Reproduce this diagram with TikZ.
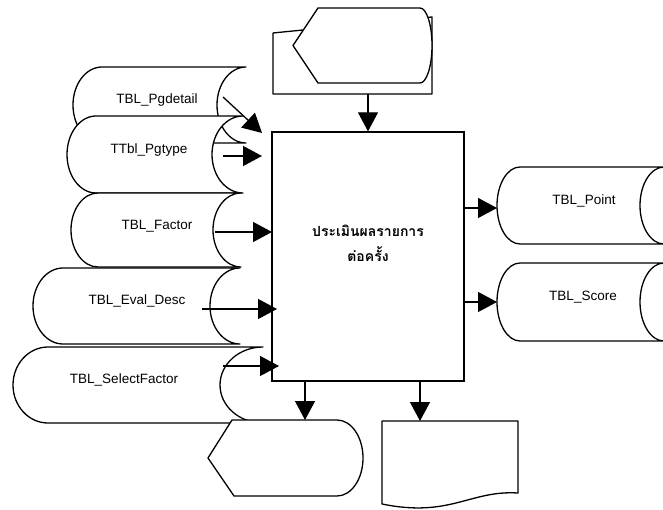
\documentclass[tikz,border=0pt]{standalone}
\usepackage{fontspec}
\setmainfont{Liberation Sans}
\newfontfamily\thaifont[Script=Thai]{Loma}
\usetikzlibrary{arrows.meta}
\tikzset{
  shp/.style={draw=black, line width=1.3pt, fill=white, line join=round},
  arr/.style={line width=1.3pt, -{Triangle[length=19pt,width=20pt]}},
  lbl/.style={font=\fontsize{13.5}{16}\selectfont, inner sep=0pt},
  thlbl/.style={font=\thaifont\bfseries\fontsize{14}{25}\selectfont, inner sep=0pt, align=center},
}
% stored data: xL, xR, top, bottom, left bulge, right bulge (pixel coords, y down)
\newcommand{\sdpath}[6]{%
  \path[shp] (#1,-#3) -- (#2,-#3)
    arc[start angle=90,end angle=270,x radius=#6,y radius={(#4-#3)/2}]
    -- (#1,-#4)
    arc[start angle=270,end angle=90,x radius=#5,y radius={(#4-#3)/2}]
    -- cycle;}
\begin{document}
\begin{tikzpicture}[x=1pt,y=1pt]
\useasboundingbox (0,0) rectangle (663,-510);
\fill[white] (0,0) rectangle (663,-510);

% top: manual input behind a display shape
\path[shp] (273,-33) -- (432,-17) -- (432,-94) -- (273,-94) -- cycle;
\path[shp] (318,-8) -- (420,-8)
  arc[start angle=90,end angle=-90,x radius=12,y radius=37.5]
  -- (318,-83) -- (293,-45.5) -- cycle;
\coordinate (mi) at (368,-94);

% left stored data stack
\sdpath{102}{246}{67}{143}{29}{29}
\node[lbl] (pgd) at (157,-100) {TBL\_Pgdetail};
\sdpath{96}{243}{116}{193}{29}{31}
\node[lbl] (pgt) at (149,-150) {TTbl\_Pgtype};
\sdpath{98}{241}{193}{267}{27}{28}
\node[lbl] (fac) at (157,-226) {TBL\_Factor};
\sdpath{63}{240}{268}{344}{30}{30}
\node[lbl] (evd) at (137,-301) {TBL\_Eval\_Desc};
\sdpath{48}{263}{347}{423}{35}{43}
\node[lbl] (slf) at (124,-380) {TBL\_SelectFactor};

% right stored data
\sdpath{520}{664}{167}{244}{23}{24}
\node[lbl] (pnt) at (584,-201) {TBL\_Point};
\sdpath{520}{664}{263}{341}{23}{24}
\node[lbl] (scr) at (583,-297) {TBL\_Score};

% bottom-left display
\path[shp] (232,-420) -- (337,-420)
  arc[start angle=90,end angle=-90,x radius=26,y radius=38]
  -- (234,-496) -- (208,-458) -- cycle;
\coordinate (dsp) at (305,-420);

% bottom-right document
\path[shp] (382,-421) -- (518,-421) -- (518,-493)
  .. controls (470,-490) and (450,-518) .. (382,-504) -- cycle;
\coordinate (doc) at (420,-421);

% main process box
\node[draw, line width=1.3pt, fill=white, minimum width=192pt, minimum height=249pt, inner sep=0pt] (box) at (368,-256.5) {};
\node[thlbl] (boxtxt) at (368,-243) {ประเมินผลรายการ\\ต่อครั้ง};

% arrows
\draw[arr] (mi) -- (box.north);
\coordinate (a1s) at (223,-97);   \coordinate (a1e) at (262,-133);
\coordinate (a2s) at (223,-156);  \coordinate (a2e) at (262,-156);
\coordinate (a3s) at (215,-232);  \coordinate (a3e) at (272,-232);
\coordinate (a4s) at (202,-309);  \coordinate (a4e) at (277,-309);
\coordinate (a5s) at (223,-366);  \coordinate (a5e) at (279,-366);
\draw[arr] (a1s) -- (a1e);
\draw[arr] (a2s) -- (a2e);
\draw[arr] (a3s) -- (a3e);
\draw[arr] (a4s) -- (a4e);
\draw[arr] (a5s) -- (a5e);
\draw[arr] (box.east |- 0,-208) -- (497,-208);
\draw[arr] (box.east |- 0,-302) -- (497,-302);
\draw[arr] (box.south -| dsp) -- (dsp);
\draw[arr] (box.south -| doc) -- (doc);
\end{tikzpicture}
\end{document}
